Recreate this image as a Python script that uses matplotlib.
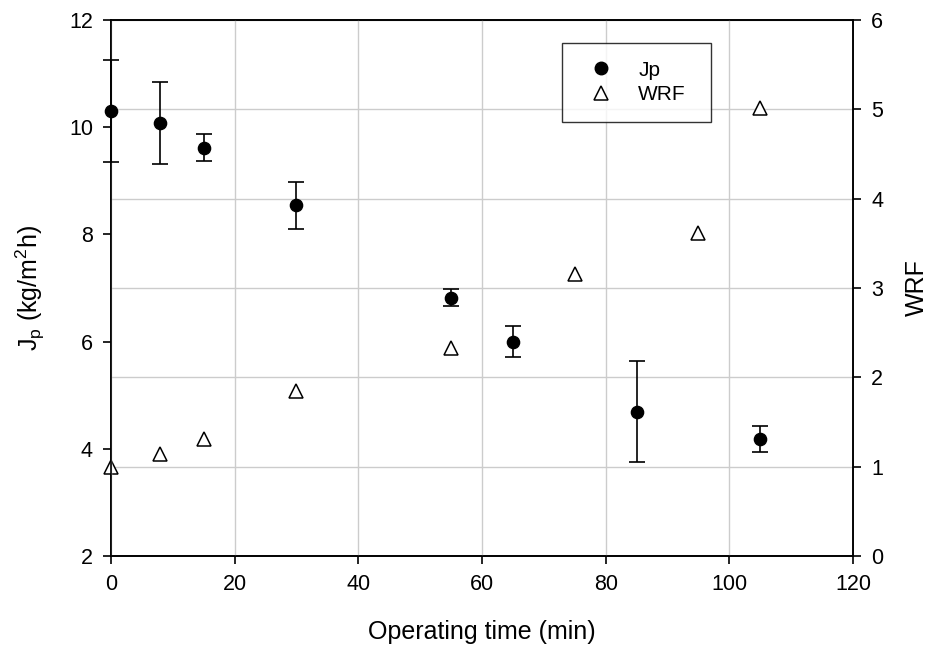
import numpy as np
import matplotlib.pyplot as plt

plt.rcParams['font.family'] = ['Liberation Sans', 'DejaVu Sans']
plt.rcParams['mathtext.default'] = 'regular'

# permeate flux with standard deviation
t_jp = [0, 8, 15, 30, 55, 65, 85, 105]
jp = [10.30, 10.08, 9.62, 8.54, 6.82, 6.00, 4.69, 4.18]
jp_err = [0.95, 0.77, 0.26, 0.43, 0.16, 0.29, 0.94, 0.24]

# water reduction factor
t_wrf = [0, 8, 15, 30, 55, 75, 95, 105]
wrf = [1.00, 1.14, 1.31, 1.85, 2.33, 3.16, 3.62, 5.01]

fig = plt.figure(figsize=(9.28, 6.53), dpi=100)
ax = fig.add_axes([0.1196, 0.1485, 0.7996, 0.8209])
ax2 = ax.twinx()

# flux axis on top so its markers sit over the WRF gridlines
ax.set_zorder(ax2.get_zorder() + 1)
ax.patch.set_visible(False)

ax2.grid(axis='y', color='#cccccc', linewidth=1.0)
ax.grid(axis='x', color='#cccccc', linewidth=1.0)
ax.set_axisbelow(True)
ax2.set_axisbelow(True)

eb = ax.errorbar(t_jp, jp, yerr=jp_err, fmt='o', color='black', ms=8.8,
                 capsize=5.8, elinewidth=1.2, capthick=1.2, label='Jp',
                 zorder=3)
for art in eb.lines[0:1] + tuple(eb.lines[1]) + tuple(eb.lines[2]):
    art.set_clip_on(False)

tri, = ax2.plot(t_wrf, wrf, '^', ms=9.5, mfc='white', mec='black', mew=1.1,
                linestyle='none', label='WRF', clip_on=False, zorder=3)

ax.set_xlim(0, 120)
ax.set_ylim(2, 12)
ax2.set_ylim(0, 6)
ax.set_xticks(np.arange(0, 121, 20))
ax.set_yticks(np.arange(2, 13, 2))
ax2.set_yticks(np.arange(0, 7, 1))

for a in (ax, ax2):
    a.tick_params(direction='out', length=6, width=1.2, labelsize=15.5, pad=7)
    for s in a.spines.values():
        s.set_linewidth(1.2)

ax.set_xlabel('Operating time (min)', fontsize=18)
ax.set_ylabel('J$_p$ (kg/m$^2$h)', fontsize=18)
ax2.set_ylabel('WRF', fontsize=18)
ax.xaxis.set_label_coords(0.5, -0.12)
ax.yaxis.set_label_coords(-0.086, 0.5)
ax2.yaxis.set_label_coords(1.070, 0.5)

h_jp = plt.Line2D([], [], marker='o', color='black', ms=9, linestyle='none')
h_wrf = plt.Line2D([], [], marker='^', ms=9.5, mfc='white', mec='black',
                   mew=1.1, linestyle='none')
leg = ax.legend([h_jp, h_wrf], ['Jp', 'WRF'], loc='upper left',
                bbox_to_anchor=(0.608, 0.957, 0.201, 0), mode='expand',
                fontsize=15, frameon=True, fancybox=False, edgecolor='black',
                borderpad=0.85, handlelength=2.0, handletextpad=0.8,
                labelspacing=0.25, borderaxespad=0)
leg.get_frame().set_linewidth(1.0)

fig.savefig('out.png', dpi=100)
